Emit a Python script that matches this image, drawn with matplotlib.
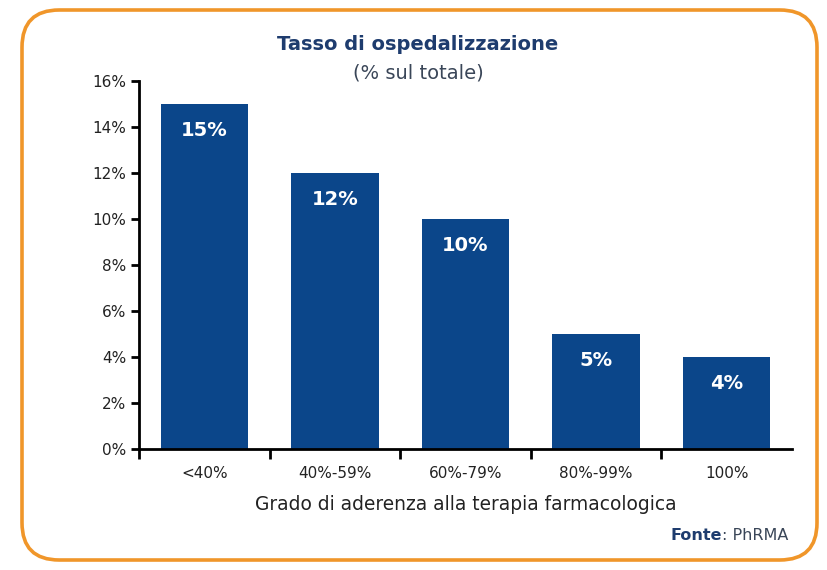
import matplotlib.pyplot as plt
from matplotlib.patches import FancyBboxPatch

# data
categories = ["<40%", "40%-59%", "60%-79%", "80%-99%", "100%"]
values = [15, 12, 10, 5, 4]
y_ticks = [0, 2, 4, 6, 8, 10, 12, 14, 16]

bar_color = "#0B468A"
title_color = "#1E3C6E"
orange = "#F0962A"

fig = plt.figure(figsize=(8.27, 5.70), dpi=100)

# rounded orange frame around the whole chart
frame = FancyBboxPatch((22 / 827, 1 - 560 / 570), 795 / 827, 550 / 570,
                       boxstyle="round,pad=0,rounding_size=0.045",
                       transform=fig.transFigure, fill=False,
                       edgecolor=orange, linewidth=2.6,
                       mutation_aspect=827 / 570)
fig.patches.append(frame)

ax = fig.add_axes([139 / 827, 1 - 449 / 570, 653 / 827, 368 / 570])

x = range(len(categories))
ax.bar(x, values, width=0.67, color=bar_color)

for i, v in enumerate(values):
    ax.text(i, v - 1.15, f"{v}%", ha="center", va="center",
            color="white", fontsize=14, fontweight="bold")

ax.set_xlim(-0.5, len(categories) - 0.5)
ax.set_ylim(0, 16)
ax.set_yticks(y_ticks)
ax.set_yticklabels([f"{t}%" for t in y_ticks], fontsize=11, color="#222222")

# category labels centred, ticks drawn at the boundaries
ax.set_xticks(list(x))
ax.set_xticklabels(categories, fontsize=11, color="#222222")
ax.tick_params(axis="x", length=0, pad=12)
ax.set_xticks([i - 0.5 for i in range(len(categories))], minor=True)
ax.tick_params(axis="x", which="minor", length=7, width=2, direction="out")
ax.tick_params(axis="y", length=6, width=2, direction="out", pad=3)

for side in ["top", "right"]:
    ax.spines[side].set_visible(False)
for side in ["left", "bottom"]:
    ax.spines[side].set_linewidth(2)

ax.set_xlabel("Grado di aderenza alla terapia farmacologica",
              fontsize=13.4, color="#222222", labelpad=10)

fig.text(418 / 827, 1 - 45 / 570, "Tasso di ospedalizzazione",
         ha="center", va="center", fontsize=14, fontweight="bold",
         color=title_color)
fig.text(418 / 827, 1 - 73 / 570, "(% sul totale)",
         ha="center", va="center", fontsize=14, color="#3A4658")

fonte = fig.text(788 / 827, 1 - 535 / 570, ": PhRMA", ha="right",
                 va="center", fontsize=11.5, color="#3A4658")
fig.canvas.draw()
bb = fonte.get_window_extent()
fig.text(bb.x0 / 827, 1 - 535 / 570, "Fonte", ha="right", va="center",
         fontsize=11.5, fontweight="bold", color=title_color)

fig.savefig("out.png", dpi=100)
